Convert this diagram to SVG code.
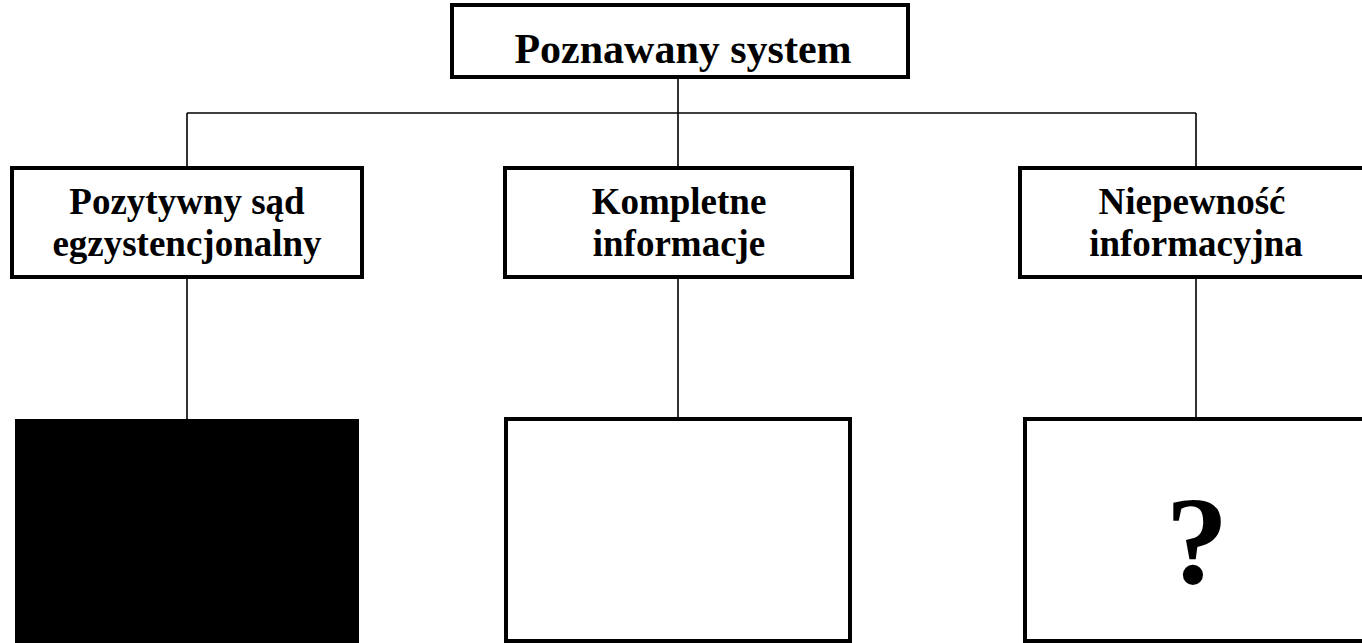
<svg xmlns="http://www.w3.org/2000/svg" width="1362" height="643" viewBox="0 0 1362 643">
<style>
.box{fill:#fff;stroke:#000;stroke-width:4}
.t{font-family:"Liberation Serif","Times New Roman",serif;font-weight:bold;fill:#000;text-anchor:middle}
.c{fill:none;stroke:#000;stroke-width:1.6}
</style>
<rect width="1362" height="643" fill="#fff"/>
<g id="connectors">
<path class="c" d="M678 77V419M187 113H1196M187 113V168M187 277V419M1196 113V168M1196 277V419"/>
</g>
<g id="root">
<rect class="box" x="452" y="5" width="456" height="72"/>
<text class="t" x="683" y="63" font-size="42">Poznawany system</text>
</g>
<g id="n1">
<rect class="box" x="12" y="168" width="350" height="109"/>
<text class="t" x="187" y="214" font-size="37">Pozytywny sąd</text>
<text class="t" x="187" y="256" font-size="37">egzystencjonalny</text>
</g>
<g id="n2">
<rect class="box" x="505" y="168" width="347" height="109"/>
<text class="t" x="679" y="214" font-size="37">Kompletne</text>
<text class="t" x="679" y="256" font-size="37">informacje</text>
</g>
<g id="n3">
<rect class="box" x="1020" y="168" width="350" height="109"/>
<text class="t" x="1192" y="214" font-size="37">Niepewność</text>
<text class="t" x="1196" y="256" font-size="37">informacyjna</text>
</g>
<g id="b1">
<rect x="15" y="419" width="344" height="224" fill="#000"/>
</g>
<g id="b2">
<rect class="box" x="506" y="419" width="344" height="222"/>
</g>
<g id="b3">
<rect class="box" x="1025" y="419" width="350" height="222"/>
<text class="t" x="1197" y="583" font-size="125">?</text>
</g>
</svg>
